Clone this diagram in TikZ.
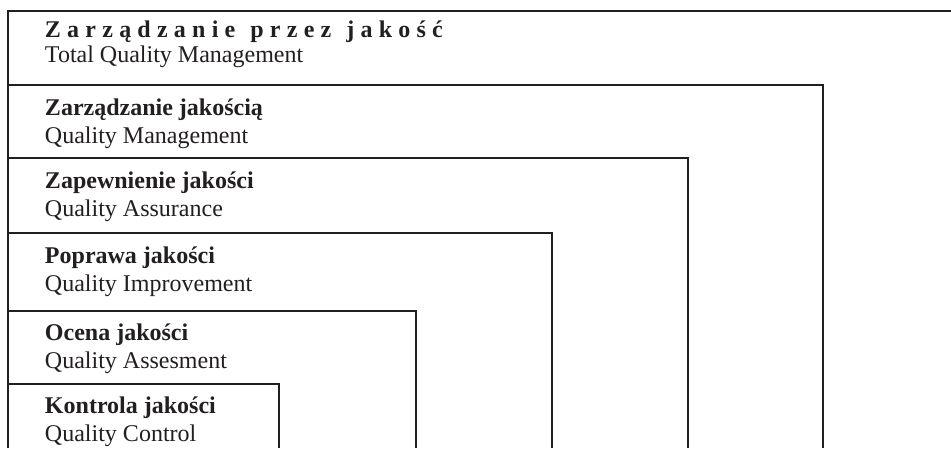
\documentclass[tikz,border=0pt]{standalone}
\usepackage{fontspec}
\setmainfont{Liberation Serif}
\definecolor{ink}{HTML}{231F20}
\tikzset{
  frame/.style={draw=ink, line width=1.2pt},
  headtxt/.style={anchor=base west, inner sep=0pt, outer sep=0pt, text=ink, font=\fontsize{24}{28}\selectfont\bfseries},
  subtxt/.style={anchor=base west, inner sep=0pt, outer sep=0pt, text=ink, font=\fontsize{24}{28}\selectfont}
}
\begin{document}
\begin{tikzpicture}[x=1pt,y=-1pt]
\useasboundingbox (0,0) rectangle (951,448);
\fill[white] (0,0) rectangle (951,448);
% corner coordinates
\coordinate (b0) at (8,448);
\coordinate (t1) at (8,11);   \coordinate (r1) at (951,11);
\coordinate (t2) at (8,85);   \coordinate (r2) at (823,85);  \coordinate (e2) at (823,448);
\coordinate (t3) at (8,158);  \coordinate (r3) at (688,158); \coordinate (e3) at (688,448);
\coordinate (t4) at (8,233);  \coordinate (r4) at (552,233); \coordinate (e4) at (552,448);
\coordinate (t5) at (8,311);  \coordinate (r5) at (416,311); \coordinate (e5) at (416,448);
\coordinate (t6) at (8,384);  \coordinate (r6) at (279,384); \coordinate (e6) at (279,448);
% frames
\draw[frame] (b0) -- (t1) -- (r1);
\draw[frame] (t2) -- (r2) -- (e2);
\draw[frame] (t3) -- (r3) -- (e3);
\draw[frame] (t4) -- (r4) -- (e4);
\draw[frame] (t5) -- (r5) -- (e5);
\draw[frame] (t6) -- (r6) -- (e6);
% texts
\node[headtxt] (h1) at (45,37.5) {\addfontfeature{LetterSpace=26}Zarządzanie\hspace{15pt}przez\hspace{15pt}jakość};
\node[subtxt]  (s1) at (45,62)   {Total Quality Management};
\node[headtxt] (h2) at (45,115) {Zarządzanie jakością};
\node[subtxt]  (s2) at (45,143) {Quality Management};
\node[headtxt] (h3) at (45,188.5) {Zapewnienie jakości};
\node[subtxt]  (s3) at (45,216.5) {Quality Assurance};
\node[headtxt] (h4) at (45,263) {Poprawa jakości};
\node[subtxt]  (s4) at (45,291) {Quality Improvement};
\node[headtxt] (h5) at (45,340) {Ocena jakości};
\node[subtxt]  (s5) at (45,368) {Quality Assesment};
\node[headtxt] (h6) at (45,413.5) {Kontrola jakości};
\node[subtxt]  (s6) at (45,441.5) {Quality Control};
\end{tikzpicture}
\end{document}
